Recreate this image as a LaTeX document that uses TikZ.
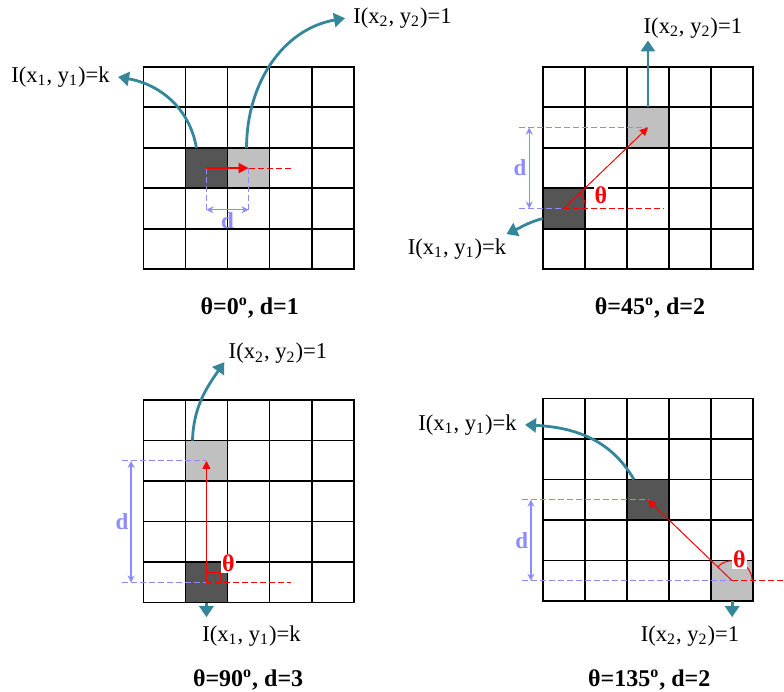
\documentclass[tikz,border=0pt]{standalone}
\usepackage{fontspec}
\setmainfont{Liberation Serif}
\usetikzlibrary{arrows.meta, calc, positioning}
\definecolor{cellgray}{RGB}{85,85,85}
\definecolor{pairgray}{RGB}{192,192,192}
\definecolor{linkteal}{RGB}{52,134,155}
\definecolor{distblue}{RGB}{140,140,255}
\definecolor{anglered}{RGB}{255,0,0}

\begin{document}
\begin{tikzpicture}[x=0.5pt, y=0.5pt,
    cellbox/.style={minimum width=21.05pt, minimum height=20.25pt, inner sep=0pt, outer sep=0pt},
    refcell/.style={cellbox, fill=cellgray},
    paircell/.style={cellbox, fill=pairgray},
    gridline/.style={line width=0.8pt, black, line cap=rect},
    pointer/.style={linkteal, line width=1.4pt, -{Triangle[length=5.5pt, width=7pt]}},
    shiftarrow/.style={anglered, line width=0.5pt, -{Triangle[length=4pt, width=4pt]}},
    rayline/.style={anglered, line width=0.5pt, dash pattern=on 3pt off 1.5pt},
    guide/.style={distblue, line width=0.5pt, dash pattern=on 3pt off 1.5pt},
    dimline/.style={distblue, line width=0.7pt, {Stealth[length=3.5pt, width=3.5pt]}-{Stealth[length=3.5pt, width=3.5pt]}},
    dist/.style={text=distblue, font=\fontsize{11.5}{13}\selectfont\bfseries, inner sep=1pt},
    thetalab/.style={text=anglered, font=\fontsize{12}{14}\selectfont\bfseries, fill=white, inner sep=0.5pt},
    pixlabel/.style={font=\fontsize{11.3}{13}\selectfont, inner xsep=4pt, inner ysep=1pt},
    captext/.style={font=\fontsize{12}{14}\selectfont\bfseries}
]
\useasboundingbox (0,0) rectangle (784,692);

% theta = 0, d = 1
\begin{scope}[shift={(143.3,422.7)}, x=21.05pt, y=20.25pt]
  \node[refcell] (p1ref) at (1.5,2.5) {};
  \node[paircell] (p1pair) at (2.5,2.5) {};
  \foreach \k in {0,...,5} {
    \draw[gridline] (\k,0) -- (\k,5);
    \draw[gridline] (0,\k) -- (5,\k);
  }
  \coordinate (p1foot1) at (1.5,1.47);
  \coordinate (p1foot2) at (2.5,1.47);
  \coordinate (p1end) at (3.53,2.5);
  \draw[guide] (p1ref.center) -- (p1foot1);
  \draw[guide] (p1pair.center) -- (p1foot2);
  \draw[dimline] (p1foot1) -- node[dist, below] (p1d) {d} (p1foot2);
  \draw[rayline] (p1pair.center) -- (p1end);
  \draw[anglered, line width=1pt, -{Triangle[length=5pt, width=5pt]}] (p1ref.center) -- (p1pair.center);
  \node[pixlabel, anchor=east] (p1lab1) at (-0.6,4.75) {I(x\textsubscript{1}, y\textsubscript{1})=k};
  \node[pixlabel, anchor=west] (p1lab2) at (4.79,6.2) {I(x\textsubscript{2}, y\textsubscript{2})=1};
  \draw[pointer] ([xshift=-5pt]p1ref.north) to[out=100, in=-10] (p1lab1.east);
  \draw[pointer] ([xshift=-1pt]p1pair.north) to[out=90, in=190] (p1lab2.west);
  \node[captext] (p1cap) at (2.53,-0.95) {θ=0\textsuperscript{o}, d=1};
\end{scope}

% theta = 45, d = 2
\begin{scope}[shift={(542.7,422.7)}, x=21.05pt, y=20.25pt]
  \node[refcell] (p2ref) at (0.5,1.5) {};
  \node[paircell] (p2pair) at (2.5,3.5) {};
  \foreach \k in {0,...,5} {
    \draw[gridline] (\k,0) -- (\k,5);
    \draw[gridline] (0,\k) -- (5,\k);
  }
  \coordinate (p2top) at (-0.56,3.5);
  \coordinate (p2bot) at (-0.56,1.5);
  \coordinate (p2dtop) at (-0.32,3.5);
  \coordinate (p2dbot) at (-0.32,1.5);
  \coordinate (p2end) at (2.88,1.5);
  \draw[guide] (p2top) -- (p2pair.center);
  \draw[guide] (p2bot) -- (p2ref.center);
  \draw[dimline] (p2dtop) -- node[dist, left] (p2d) {d} (p2dbot);
  \draw[rayline] (p2ref.center) -- (p2end);
  \draw[shiftarrow] (p2ref.center) -- (p2pair.center);
  \draw[anglered, line width=0.5pt] ([xshift=11pt]p2ref.center) arc[start angle=0, end angle=44, radius=11pt];
  \node[thetalab] (p2theta) at (1.38,1.83) {θ};
  \node[pixlabel, anchor=south west] (p2lab2) at (2.2,5.65) {I(x\textsubscript{2}, y\textsubscript{2})=1};
  \node[pixlabel, anchor=north east] (p2lab1) at (-0.67,0.82) {I(x\textsubscript{1}, y\textsubscript{1})=k};
  \draw[pointer] (p2pair.north) -- (p2pair.north |- p2lab2.south);
  \draw[pointer] ([yshift=-5pt]p2ref.west) to[out=195, in=25] ([xshift=-4pt, yshift=1pt]p2lab1.north east);
  \node[captext] (p2cap) at (2.55,-0.95) {θ=45\textsuperscript{o}, d=2};
\end{scope}

% theta = 90, d = 3
\begin{scope}[shift={(143.3,89.3)}, x=21.05pt, y=20.25pt]
  \node[refcell] (p3ref) at (1.5,0.5) {};
  \node[paircell] (p3pair) at (1.5,3.5) {};
  \foreach \k in {0,...,5} {
    \draw[gridline] (\k,0) -- (\k,5);
    \draw[gridline] (0,\k) -- (5,\k);
  }
  \coordinate (p3top) at (-0.51,3.5);
  \coordinate (p3bot) at (-0.51,0.5);
  \coordinate (p3dtop) at (-0.29,3.5);
  \coordinate (p3dbot) at (-0.29,0.5);
  \coordinate (p3end) at (3.52,0.5);
  \draw[guide] (p3top) -- (p3pair.center);
  \draw[guide] (p3bot) -- (p3ref.center);
  \draw[dimline] (p3dtop) -- node[dist, left] (p3d) {d} (p3dbot);
  \draw[rayline] (p3ref.center) -- (p3end);
  \draw[shiftarrow] (p3ref.center) -- (p3pair.center);
  \draw[anglered, line width=0.5pt] ([yshift=5pt]p3ref.center) -- ([xshift=7pt, yshift=5pt]p3ref.center) -- ([xshift=7pt]p3ref.center);
  \node[thetalab] (p3theta) at (2.02,0.97) {θ};
  \node[pixlabel, anchor=south west] (p3lab2) at (1.83,5.84) {I(x\textsubscript{2}, y\textsubscript{2})=1};
  \node[pixlabel] (p3lab1) at (2.57,-0.82) {I(x\textsubscript{1}, y\textsubscript{1})=k};
  \draw[pointer] ([xshift=-7pt]p3pair.north) to[out=88, in=235] ([xshift=2pt, yshift=2pt]p3lab2.south west);
  \draw[pointer] (p3ref.south) -- ($(p3ref.south |- p3lab1.north)+(0,3pt)$);
  \node[captext] (p3cap) at (2.49,-1.91) {θ=90\textsuperscript{o}, d=3};
\end{scope}

% theta = 135, d = 2
\begin{scope}[shift={(542.7,91)}, x=21.05pt, y=20.25pt]
  \node[refcell] (p4ref) at (2.5,2.5) {};
  \node[paircell] (p4pair) at (4.5,0.5) {};
  \foreach \k in {0,...,5} {
    \draw[gridline] (\k,0) -- (\k,5);
    \draw[gridline] (0,\k) -- (5,\k);
  }
  \coordinate (p4top) at (-0.5,2.5);
  \coordinate (p4bot) at (-0.5,0.5);
  \coordinate (p4dtop) at (-0.28,2.5);
  \coordinate (p4dbot) at (-0.28,0.5);
  \coordinate (p4end) at (5.71,0.5);
  \draw[guide] (p4top) -- (p4ref.center);
  \draw[guide] (p4bot) -- (p4pair.center);
  \draw[dimline] (p4dtop) -- node[dist, left] (p4d) {d} (p4dbot);
  \draw[rayline] (p4pair.center) -- (p4end);
  \draw[shiftarrow] (p4pair.center) -- (p4ref.center);
  \draw[anglered, line width=0.5pt] ([xshift=10pt]p4pair.center) arc[start angle=0, end angle=136, radius=10pt];
  \node[thetalab] (p4theta) at (4.67,1.03) {θ};
  \node[pixlabel, anchor=east] (p4lab1) at (-0.42,4.35) {I(x\textsubscript{1}, y\textsubscript{1})=k};
  \node[pixlabel] (p4lab2) at (3.5,-0.86) {I(x\textsubscript{2}, y\textsubscript{2})=1};
  \draw[pointer] ([xshift=-7pt]p4ref.north) to[out=120, in=-3] (p4lab1.east);
  \draw[pointer] (p4pair.south) -- ($(p4pair.south |- p4lab2.north)+(0,3pt)$);
  \node[captext] (p4cap) at (2.53,-1.95) {θ=135\textsuperscript{o}, d=2};
\end{scope}
\end{tikzpicture}
\end{document}
